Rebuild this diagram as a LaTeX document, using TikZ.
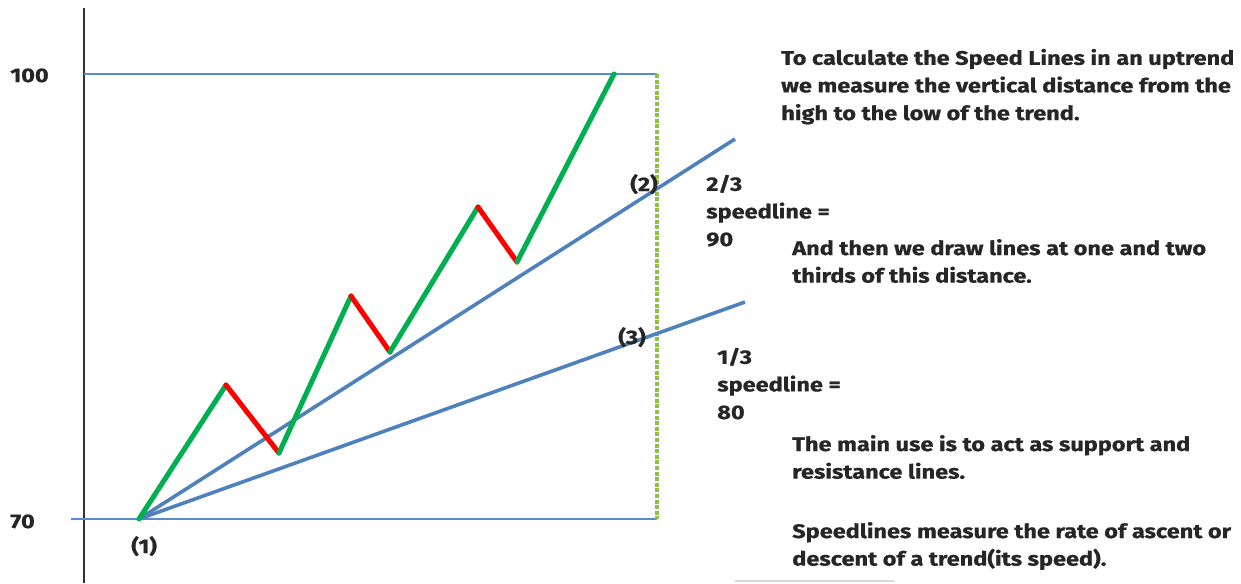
\documentclass[tikz,border=0pt]{standalone}
\usepackage{fontspec}
\setmainfont{Fira Sans}[FakeStretch=1.2,BoldFeatures={FakeBold=0.8}]
\begin{document}
\begin{tikzpicture}[x=0.75pt,y=-0.75pt,
  txt/.style={font=\bfseries\fontsize{14.7}{20.7}\selectfont,text=black!85,inner sep=0pt,align=left,anchor=base west},
  up/.style={draw={rgb,255:red,0;green,176;blue,80},line width=3.8pt,line cap=round},
  down/.style={draw=red,line width=3.8pt,line cap=round},
  speed/.style={draw={rgb,255:red,79;green,129;blue,189},line width=2.7pt},
  level/.style={draw={rgb,255:red,91;green,139;blue,206},line width=1.6pt},
  axis/.style={draw=black!80,line width=2.2pt}]
\useasboundingbox (0,0) rectangle (1241,583);
% coordinates
\coordinate (atop) at (84,8);
\coordinate (abot) at (84,583);
\coordinate (h100a) at (84,74);
\coordinate (h100b) at (657,74);
\coordinate (h70a) at (71,519);
\coordinate (h70b) at (657,519);
\coordinate (p1) at (139,519);
\coordinate (p2) at (226,385);
\coordinate (p3) at (279,453);
\coordinate (p4) at (351,296);
\coordinate (p5) at (390,352);
\coordinate (p6) at (478,207);
\coordinate (p7) at (517,262);
\coordinate (p8) at (614,74);
\coordinate (s2) at (735,139);
\coordinate (s1) at (745,302);
% axis and levels
\draw[axis] (atop) -- (abot);
\draw[level] (h100a) -- (h100b);
\draw[level] (h70a) -- (h70b);
\draw[draw={rgb,255:red,146;green,192;blue,70},line width=2.4pt,dash pattern=on 3pt off 1.2pt] (h100b) -- (h70b);
% speed lines
\draw[speed] (p1) -- (s2);
\draw[speed] (p1) -- (s1);
% zigzag
\draw[up] (p1) -- (p2);
\draw[down] (p2) -- (p3);
\draw[up] (p3) -- (p4);
\draw[down] (p4) -- (p5);
\draw[up] (p5) -- (p6);
\draw[down] (p6) -- (p7);
\draw[up] (p7) -- (p8);
% faint line at bottom
\draw[black!15,line width=1pt] (735,581) -- (895,581);
% labels
\node[txt] (l100) at (10,82) {100};
\node[txt] (l70) at (10,528) {70};
\node[txt] (lp1) at (131,553) {(1)};
\node[txt] (lp2) at (630,191) {(2)};
\node[txt] (lp3) at (618,344) {(3)};
\node[txt] (t1) at (781,120) {To calculate the Speed Lines in an uptrend\\we measure the vertical distance from the\\high to the low of the trend.};
\node[txt] (t23) at (706,246) {2/3\\speedline =\\90};
\node[txt] (t2) at (792,282.6) {And then we draw lines at one and two\\thirds of this distance.};
\node[txt] (t13) at (717,419) {1/3\\speedline =\\80};
\node[txt] (t3) at (792,478.6) {The main use is to act as support and\\resistance lines.};
\node[txt] (t4) at (792,565.6) {Speedlines measure the rate of ascent or\\descent of a trend(its speed).};
\end{tikzpicture}
\end{document}
